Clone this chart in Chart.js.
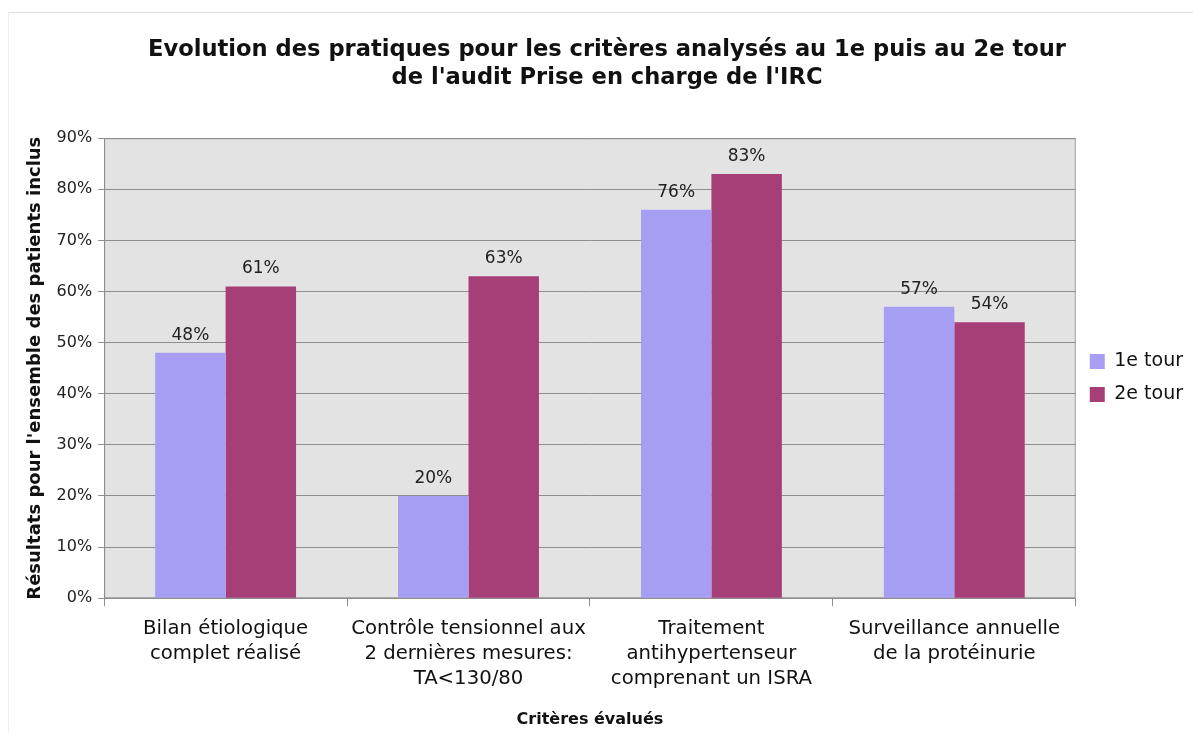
<!DOCTYPE html>
<html>
<head>
<meta charset="utf-8">
<script src="https://cdn.jsdelivr.net/npm/chart.js@4"></script>
<style>
  html, body { margin: 0; padding: 0; background: #ffffff; }
  #wrap { position: absolute; left: 8px; top: 12px; width: 1185px; height: 721px; border-top: 1px solid #dddddd; border-left: 1px solid #eeeeee; box-sizing: border-box; }
</style>
</head>
<body>
<div id="wrap"><canvas id="myChart"></canvas></div>
<script>
// data
const categories = [
  ['Bilan étiologique', 'complet réalisé'],
  ['Contrôle tensionnel aux', '2 dernières mesures:', 'TA<130/80'],
  ['Traitement', 'antihypertenseur', 'comprenant un ISRA'],
  ['Surveillance annuelle', 'de la protéinurie']
];
const tour1 = [48, 20, 76, 57];
const tour2 = [61, 63, 83, 54];
const yTicks = [0, 10, 20, 30, 40, 50, 60, 70, 80, 90];

const FONT = "'DejaVu Sans', Verdana, sans-serif";

// grey plot background
const plotBg = {
  id: 'plotBg',
  beforeDraw(chart) {
    const {ctx, chartArea} = chart;
    ctx.save();
    ctx.fillStyle = '#e3e3e3';
    ctx.fillRect(chartArea.left, chartArea.top, chartArea.right - chartArea.left, chartArea.bottom - chartArea.top);
    ctx.strokeStyle = '#a0a0a0';
    ctx.lineWidth = 1;
    ctx.strokeRect(chartArea.left + 0.5, chartArea.top + 0.5, chartArea.right - chartArea.left - 1, chartArea.bottom - chartArea.top - 1);
    ctx.restore();
  }
};

// value labels above each bar
const valueLabels = {
  id: 'valueLabels',
  afterDatasetsDraw(chart) {
    const ctx = chart.ctx;
    ctx.save();
    ctx.font = '17px ' + FONT;
    ctx.fillStyle = '#222222';
    ctx.textAlign = 'center';
    ctx.textBaseline = 'bottom';
    chart.data.datasets.forEach((ds, i) => {
      chart.getDatasetMeta(i).data.forEach((bar, j) => {
        ctx.fillText(ds.data[j] + '%', bar.x, bar.y - 9);
      });
    });
    ctx.restore();
  }
};

new Chart(document.getElementById('myChart'), {
  type: 'bar',
  data: {
    labels: categories,
    datasets: [
      { label: '1e tour', data: tour1, backgroundColor: '#a69ef3', borderWidth: 0 },
      { label: '2e tour', data: tour2, backgroundColor: '#a63f78', borderWidth: 0 }
    ]
  },
  options: {
    responsive: true,
    maintainAspectRatio: false,
    animation: false,
    layout: { padding: { left: 12, right: 0, top: 10, bottom: 0 } },
    datasets: { bar: { categoryPercentage: 0.58, barPercentage: 1.0 } },
    plugins: {
      title: {
        display: true,
        text: ["Evolution des pratiques pour les critères analysés au 1e puis au 2e tour", "de l'audit Prise en charge de l'IRC"],
        font: { family: FONT, size: 22.6, weight: 'bold' },
        color: '#111111',
        padding: { top: 14, bottom: 47 },
        lineHeight: 1.3
      },
      legend: {
        position: 'right',
        labels: {
          font: { family: FONT, size: 19 },
          color: '#111111',
          boxWidth: 15,
          boxHeight: 15,
          padding: 14
        }
      },
      tooltip: { enabled: false }
    },
    scales: {
      y: {
        min: 0,
        max: 90,
        afterBuildTicks(axis) { axis.ticks = yTicks.map(v => ({ value: v })); },
        ticks: {
          callback: v => v + '%',
          font: { family: FONT, size: 16 },
          color: '#222222',
          padding: 6
        },
        grid: { color: '#8e8e8e', drawTicks: true, tickLength: 6 },
        border: { color: '#8e8e8e' },
        title: {
          display: true,
          text: "Résultats pour l'ensemble des patients inclus",
          font: { family: FONT, size: 18, weight: 'bold' },
          color: '#111111',
          padding: { bottom: 4 }
        }
      },
      x: {
        ticks: {
          font: { family: FONT, size: 19.7, lineHeight: 1.28 },
          color: '#111111',
          padding: 10,
          maxRotation: 0
        },
        grid: { drawOnChartArea: false, drawTicks: true, tickLength: 8, color: '#8e8e8e' },
        border: { color: '#8e8e8e' },
        title: {
          display: true,
          text: 'Critères évalués',
          font: { family: FONT, size: 16, weight: 'bold' },
          color: '#111111',
          padding: { top: 8 }
        }
      }
    }
  },
  plugins: [plotBg, valueLabels]
});
</script>
</body>
</html>
